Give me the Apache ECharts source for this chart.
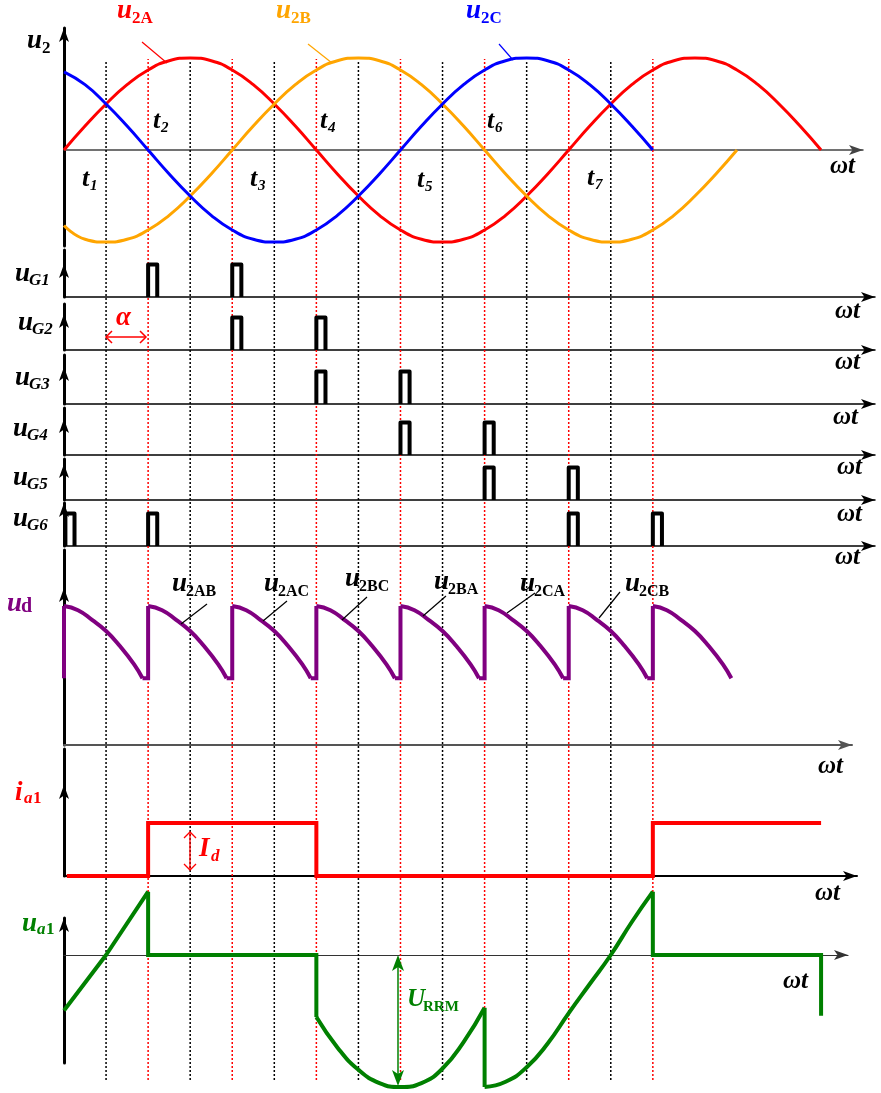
<!DOCTYPE html>
<html>
<head>
<meta charset="utf-8">
<title>三相桥式全控整流电路 α=30° 波形</title>
<script src="https://cdn.jsdelivr.net/npm/echarts@6/dist/echarts.min.js"></script>
<style>
  html, body { margin: 0; padding: 0; background: #fff; }
  #main { width: 881px; height: 1093px; }
</style>
</head>
<body>
<div id="main"></div>
<script>
// ---- data (angles in degrees of ωt, values in per-unit) ----
var phaseStep = 15;
var u2A = [0, 0.26, 0.5, 0.71, 0.87, 0.97, 1, 0.97, 0.87, 0.71, 0.5, 0.26, 0, -0.26, -0.5, -0.71, -0.87, -0.97, -1, -0.97, -0.87, -0.71, -0.5, -0.26, 0,
           0.26, 0.5, 0.71, 0.87, 0.97, 1, 0.97, 0.87, 0.71, 0.5, 0.26, 0];
var u2B = [-0.82, -0.97, -1, -0.97, -0.87, -0.71, -0.5, -0.26, 0, 0.26, 0.5, 0.71, 0.87, 0.97, 1, 0.97, 0.87, 0.71, 0.5, 0.26, 0,
           -0.26, -0.5, -0.71, -0.87, -0.97, -1, -0.97, -0.87, -0.71, -0.5, -0.26, 0];
var u2C = [0.85, 0.71, 0.5, 0.26, 0, -0.26, -0.5, -0.71, -0.87, -0.97, -1, -0.97, -0.87, -0.71, -0.5, -0.26, 0,
           0.26, 0.5, 0.71, 0.87, 0.97, 1, 0.97, 0.87, 0.71, 0.5, 0.26, 0];

var naturalAngles = [30, 90, 150, 210, 270, 330, 390];   // black dotted, t1..t7
var firingAngles = [60, 120, 180, 240, 300, 360, 420];   // red dotted (α = 30°)

var pulseWidth = 6.5;
var uG1Pulses = [60, 120];
var uG2Pulses = [120, 180];
var uG3Pulses = [180, 240];
var uG4Pulses = [240, 300];
var uG5Pulses = [300, 360];
var uG6Pulses = [1, 60, 360, 420];

var udStarts = [0, 60, 120, 180, 240, 300, 360, 420];
var udOffsets = [0, 10, 20, 30, 40, 50, 56];
var udProfile = [1.0, 0.97, 0.9, 0.82, 0.71, 0.58, 0.48];
var udNames = ['2AB', '2AC', '2BC', '2BA', '2CA', '2CB'];

var ia1X = [2, 60, 60, 180, 180, 420, 420, 540];
var ia1Y = [0, 0, 1, 1, 0, 0, 1, 1];

var ua1RiseAX = [0, 30, 60];
var ua1RiseAY = [-0.42, 0, 0.48];
var ua1StepAX = [60, 60, 180, 180];
var ua1StepAY = [0.48, 0, 0, -0.47];
var ua1DipX = [180, 195, 210, 225, 240, 255, 270, 285, 300];
var ua1DipY = [-0.47, -0.7, -0.87, -0.97, -1, -0.97, -0.86, -0.66, -0.4];
var ua1DropX = [300, 300];
var ua1DropY = [-0.4, -1];
var ua1RiseBX = [300, 315, 330, 345, 360, 375, 390, 405, 420];
var ua1RiseBY = [-1, -0.96, -0.85, -0.67, -0.44, -0.22, 0, 0.25, 0.48];
var ua1StepBX = [420, 420, 540, 540];
var ua1StepBY = [0.48, 0, 0, -0.46];

// ---- layout ----
var PX_PER_DEG = 1.402;
var LEFT = 64;
var RED = '#ff0000', ORANGE = '#ffa500', BLUE = '#0000ff', PURPLE = '#800080', GREEN = '#008000';

var grids = [], xAxes = [], yAxes = [], series = [];

function hidden() { return { axisTick: { show: false }, axisLabel: { show: false }, splitLine: { show: false } }; }

function addPanel(o) {
  var idx = grids.length;
  var width = o.tipX - LEFT;
  grids.push({ left: LEFT, top: o.top, width: width, height: o.bottom - o.top, containLabel: false, outerBoundsMode: 'none' });
  xAxes.push(Object.assign({
    gridIndex: idx, type: 'value', min: 0, max: width / PX_PER_DEG,
    axisLine: { show: true, onZero: true, symbol: ['none', 'arrow'], symbolSize: [7.5, 14],
      lineStyle: { color: o.xColor || '#000', width: o.xWidth || 1.5 } }
  }, hidden()));
  var off = o.arrowY == null ? 0 : -(o.arrowY - o.top);
  yAxes.push(Object.assign({
    gridIndex: idx, type: 'value', min: o.yMin, max: o.yMax,
    axisLine: { show: true, onZero: true, symbol: ['none', 'arrow'], symbolSize: [7.5, 14], symbolOffset: [0, off],
      lineStyle: { color: '#000', width: 3 } }
  }, hidden()));
  return idx;
}

function addLine(gi, data, color, width, smooth, extra) {
  series.push(Object.assign({
    type: 'line', xAxisIndex: gi, yAxisIndex: gi, data: data,
    smooth: smooth ? 0.5 : false, symbol: 'none', showSymbol: false, clip: false, silent: true,
    lineStyle: { color: color, width: width, join: 'round' }, z: 3
  }, extra || {}));
}

function zip(xs, ys) { return xs.map(function (x, i) { return [x, ys[i]]; }); }
function wave(vals) { return vals.map(function (v, i) { return [i * phaseStep, v]; }); }

// overlay grid for dotted guide lines
var gOverlay = grids.length;
grids.push({ left: LEFT, top: 59, width: 800, height: 1021, containLabel: false, outerBoundsMode: 'none' });
xAxes.push({ gridIndex: gOverlay, type: 'value', min: 0, max: 800 / PX_PER_DEG, show: false });
yAxes.push({ gridIndex: gOverlay, type: 'value', min: 0, max: 1, show: false });
naturalAngles.forEach(function (a) {
  addLine(gOverlay, [[a, 0], [a, 0.997]], '#000', 1.5, false, { z: 1, lineStyle: { color: '#000', width: 1.5, type: [2, 2] } });
});
firingAngles.forEach(function (a) {
  addLine(gOverlay, [[a, 0], [a, 1]], RED, 1.5, false, { z: 1, lineStyle: { color: RED, width: 1.5, type: [2, 2] } });
});

// u2 panel
var gU2 = addPanel({ top: 28, bottom: 246, tipX: 863, yMin: -(246 - 150) / 92, yMax: (150 - 28) / 92, xColor: '#444', xWidth: 1.5 });
addLine(gU2, wave(u2A), RED, 3, true);
addLine(gU2, wave(u2B), ORANGE, 3, true);
addLine(gU2, wave(u2C), BLUE, 3, true);

// gate pulses
var gatePanels = [
  { top: 250, bottom: 297, arrowY: 264, pulses: uG1Pulses },
  { top: 304, bottom: 350, arrowY: 314, pulses: uG2Pulses },
  { top: 355, bottom: 404, arrowY: 367, pulses: uG3Pulses },
  { top: 408, bottom: 455, arrowY: 419, pulses: uG4Pulses },
  { top: 459, bottom: 500, arrowY: 464, pulses: uG5Pulses },
  { top: 503, bottom: 546, arrowY: null, pulses: uG6Pulses }
];
gatePanels.forEach(function (p) {
  var gi = addPanel({ top: p.top, bottom: p.bottom, tipX: 875, yMin: 0, yMax: (p.bottom - p.top) / 32.5, arrowY: p.arrowY });
  p.pulses.forEach(function (a) {
    addLine(gi, [[a, 0], [a, 1], [a + pulseWidth, 1], [a + pulseWidth, 0]], '#000', 4, false);
  });
});

// ud panel
var gUd = addPanel({ top: 550, bottom: 745, tipX: 852, yMin: 0, yMax: (745 - 550) / 139, arrowY: 588, xColor: '#555', xWidth: 2 });
var udEnd = udOffsets[udOffsets.length - 1], udLow = udProfile[udProfile.length - 1];
udStarts.forEach(function (s, k) {
  var jump = k === 0 ? [[s, udLow], [s, udProfile[0]]] : [[s - 60 + udEnd, udLow], [s, udLow], [s, udProfile[0]]];
  addLine(gUd, jump, PURPLE, 4, false, { lineStyle: { color: PURPLE, width: 4, join: 'miter' } });
  addLine(gUd, udOffsets.map(function (d, i) { return [s + d, udProfile[i]]; }), PURPLE, 4, true);
});

// ia1 panel
var gIa = addPanel({ top: 749, bottom: 876, tipX: 857, yMin: 0, yMax: (876 - 749) / 53, arrowY: 785, xColor: '#000', xWidth: 2 });
addLine(gIa, zip(ia1X, ia1Y), RED, 4, false, { lineStyle: { color: RED, width: 4, join: 'miter' } });

// ua1 panel
var gUa = addPanel({ top: 918, bottom: 1063, tipX: 848, yMin: -(1063 - 955) / 132, yMax: (955 - 918) / 132, xColor: '#333', xWidth: 1.2 });
addLine(gUa, zip(ua1RiseAX, ua1RiseAY), GREEN, 4, false);
addLine(gUa, zip(ua1StepAX, ua1StepAY), GREEN, 4, false, { lineStyle: { color: GREEN, width: 4, join: 'miter' } });
addLine(gUa, zip(ua1DipX, ua1DipY), GREEN, 4, true);
addLine(gUa, zip(ua1DropX, ua1DropY), GREEN, 4, false);
addLine(gUa, zip(ua1RiseBX, ua1RiseBY), GREEN, 4, true);
addLine(gUa, zip(ua1StepBX, ua1StepBY), GREEN, 4, false, { lineStyle: { color: GREEN, width: 4, join: 'miter' } });

// ---- annotations ----
var SERIF = '"Liberation Serif", "Times New Roman", serif';
var graphics = [];
function T(x, base, str, size, color, st) {
  var font = (st === 'bi' ? 'italic bold ' : st === 'i' ? 'italic ' : 'bold ') + size + 'px ' + SERIF;
  graphics.push({ type: 'text', x: x, y: base - 0.32 * size, silent: true, z: 100,
    style: { text: str, font: font, fill: color, align: 'left', verticalAlign: 'middle', textAlign: 'left', textVerticalAlign: 'middle' } });
}
function L(pts, color, w) {
  graphics.push({ type: 'polyline', silent: true, z: 100, shape: { points: pts }, style: { stroke: color, lineWidth: w || 1.2, fill: null } });
}
function P(pts, color) {
  graphics.push({ type: 'polygon', silent: true, z: 100, shape: { points: pts }, style: { fill: color } });
}

T(27, 50, 'u', 27, '#000', 'bi'); T(42, 54, '2', 17, '#000', 'b');
T(117, 20, 'u', 27, RED, 'bi'); T(132, 24, '2A', 17, RED, 'b');
T(276, 20, 'u', 27, ORANGE, 'bi'); T(291, 24, '2B', 17, ORANGE, 'b');
T(466, 20, 'u', 27, BLUE, 'bi'); T(481, 24, '2C', 17, BLUE, 'b');
L([[142, 42], [167, 63]], RED); L([[308, 44], [332, 63]], ORANGE); L([[499, 44], [513, 60]], BLUE);

var tPos = [[82, 188], [153, 130], [250, 188], [320, 130], [417, 189], [487, 130], [587, 187]];
tPos.forEach(function (p, i) { T(p[0], p[1], 't', 26, '#000', 'bi'); T(p[0] + 8, p[1] + 3, String(i + 1), 15, '#000', 'bi'); });

[[830, 175], [835, 320], [835, 371], [833, 426], [837, 476], [837, 523], [835, 566], [818, 775], [815, 902], [783, 990]]
  .forEach(function (p) { T(p[0], p[1], 'ωt', 25, '#000', 'bi'); });

[[15, 283], [18, 332], [15, 387], [13, 438], [13, 487], [13, 528]].forEach(function (p, i) {
  T(p[0], p[1], 'u', 27, '#000', 'bi'); T(p[0] + 14, p[1] + 3, 'G' + (i + 1), 17, '#000', 'bi');
});

T(7, 613, 'u', 27, PURPLE, 'bi'); T(21, 613, 'd', 20, PURPLE, 'b');
var udLab = [[172, 593], [264, 593], [345, 588], [434, 591], [520, 593], [625, 593]];
udLab.forEach(function (p, i) { T(p[0], p[1], 'u', 27, '#000', 'bi'); T(p[0] + 14, p[1] + 4, udNames[i], 16, '#000', 'b'); });
L([[207, 604], [181, 624]], '#000'); L([[287, 601], [263, 621]], '#000'); L([[367, 597], [342, 620]], '#000');
L([[446, 596], [423, 616]], '#000'); L([[535, 593], [507, 613]], '#000'); L([[620, 592], [599, 618]], '#000');

T(15, 802, 'i', 27, RED, 'bi'); T(24, 804, 'a', 17, RED, 'bi'); T(33, 804, '1', 17, RED, 'b');
T(22, 933, 'u', 27, GREEN, 'bi'); T(37, 935, 'a', 17, GREEN, 'bi'); T(46, 935, '1', 17, GREEN, 'b');

// α
T(116, 327, 'α', 27, RED, 'bi');
L([[106, 337], [146, 337]], RED, 1.5); L([[112, 331], [106, 337], [112, 343]], RED, 1.5); L([[140, 331], [146, 337], [140, 343]], RED, 1.5);
// Id
T(199, 858, 'I', 27, RED, 'bi'); T(211, 862, 'd', 17, RED, 'bi');
L([[190, 832], [190, 870]], RED, 1.3); L([[184, 838], [190, 832], [196, 838]], RED, 1.3); L([[184, 864], [190, 870], [196, 864]], RED, 1.3);
// URRM
T(407, 1008, 'U', 25, GREEN, 'bi'); T(423, 1012, 'RRM', 15, GREEN, 'b');
L([[398, 962], [398, 1080]], GREEN, 1.5);
P([[398, 955], [392, 971], [398, 967], [404, 971]], GREEN);
P([[398, 1086], [392, 1070], [398, 1074], [404, 1070]], GREEN);

var chart = echarts.init(document.getElementById('main'), null, { renderer: 'canvas' });
chart.setOption({
  backgroundColor: '#fff',
  animation: false,
  grid: grids,
  xAxis: xAxes,
  yAxis: yAxes,
  series: series,
  graphic: graphics
});
</script>
</body>
</html>
